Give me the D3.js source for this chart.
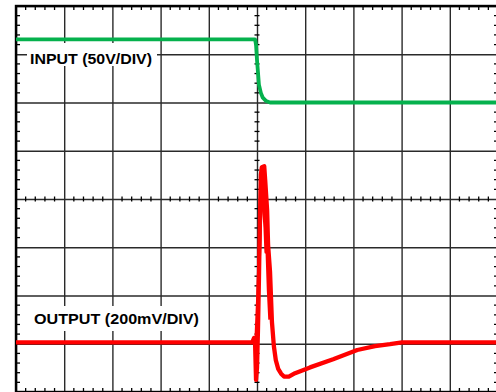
<!DOCTYPE html>
<meta charset="utf-8">
<head>
<script src="https://cdn.jsdelivr.net/npm/d3@7"></script>
<style>
  body { margin: 0; background: #fff; }
  svg { display: block; }
</style>
</head>
<body>
<script>

// time in divisions (0..10), level in divisions (-4..4, 0 = centre line)
var inputT = [0, 4.96, 4.98, 5.0, 5.02, 5.04, 5.08, 5.12, 5.19, 5.27, 10];
var inputV = [3.31, 3.31, 3.2, 2.88, 2.63, 2.37, 2.2, 2.1, 2.03, 2.0, 2.0];

var outputT = [0, 4.9, 4.94, 4.96, 4.98, 5.0, 5.02, 5.04, 5.06, 5.08, 5.1, 5.15, 5.17, 5.21, 5.23, 5.27,
               5.31, 5.35, 5.39, 5.44, 5.5, 5.56, 5.66, 5.79, 6.1, 6.58, 7.08, 7.45, 7.76, 8.01, 10];
var outputV = [-2.97, -2.97, -2.88, -2.99, -3.75, -3.5, -2.72, -1.68, -0.44, 0.5, 0.66, 0.68, 0.39, -0.23, -0.95, -1.5,
               -2.55, -3.05, -3.34, -3.52, -3.62, -3.68, -3.68, -3.61, -3.49, -3.32, -3.13, -3.05, -3.01, -2.97, -2.97];

// second sweep over the spike
var sweepT = [4.98, 5.02, 5.06, 5.08, 5.11, 5.13, 5.15, 5.17, 5.19, 5.21, 5.24, 5.27];
var sweepV = [-2.97, -2.0, -0.8, -0.1, 0.55, 0.35, -0.3, -0.6, -1.1, -1.0, -1.9, -2.5];

var labels = ["INPUT (50V/DIV)", "OUTPUT (200mV/DIV)"];

var width = 496, height = 392;

var svg = d3.select("body").append("svg")
    .attr("width", width)
    .attr("height", height);

var x = d3.scaleLinear().domain([0, 10]).range([16, 498]);
var y = d3.scaleLinear().domain([-4, 4]).range([392, 6]);

var majX = d3.range(0, 11);
var majY = d3.range(-4, 5);
var minX = d3.range(0, 50).map(function(i) { return i / 5; }).filter(function(d) { return d % 1 != 0; });
var minY = d3.range(-20, 20).map(function(i) { return i / 5; }).filter(function(d) { return d % 1 != 0; });

// grid lines
svg.append("g")
    .attr("transform", "translate(0," + y(-4) + ")")
    .call(d3.axisBottom(x).tickValues(majX).tickSize(-(y(-4) - y(4))).tickFormat(""))
    .call(function(g) { g.select(".domain").remove(); })
    .selectAll("line").attr("stroke", "#2a2a2a").attr("stroke-width", 1.4);

svg.append("g")
    .attr("transform", "translate(" + x(0) + ",0)")
    .call(d3.axisLeft(y).tickValues(majY).tickSize(-(x(10) - x(0))).tickFormat(""))
    .call(function(g) { g.select(".domain").remove(); })
    .selectAll("line").attr("stroke", "#2a2a2a").attr("stroke-width", 1.4);

// border
svg.append("rect")
    .attr("x", x(0)).attr("y", y(4))
    .attr("width", x(10) - x(0)).attr("height", y(-4) - y(4))
    .attr("fill", "none").attr("stroke", "#000").attr("stroke-width", 2.4);

// minor ticks on the border
var tk = svg.append("g").attr("stroke", "#000").attr("stroke-width", 1.3);
tk.selectAll(".tt").data(minX).enter().append("line")
    .attr("x1", x).attr("x2", x).attr("y1", y(4)).attr("y2", y(4) + 4);
tk.selectAll(".tb").data(minX).enter().append("line")
    .attr("x1", x).attr("x2", x).attr("y1", y(-4)).attr("y2", y(-4) - 4);
tk.selectAll(".tl").data(minY).enter().append("line")
    .attr("y1", y).attr("y2", y).attr("x1", x(0)).attr("x2", x(0) + 4);
tk.selectAll(".tr").data(minY).enter().append("line")
    .attr("y1", y).attr("y2", y).attr("x1", x(10)).attr("x2", x(10) - 4);
// minor ticks on centre lines
tk.selectAll(".cx").data(minX).enter().append("line")
    .attr("x1", x).attr("x2", x).attr("y1", y(0) - 2.5).attr("y2", y(0) + 2.5);
tk.selectAll(".cy").data(minY).enter().append("line")
    .attr("y1", y).attr("y2", y).attr("x1", x(5) - 2.5).attr("x2", x(5) + 2.5);

// labels with white boxes
svg.append("rect").attr("x", 27).attr("y", 43).attr("width", 130).attr("height", 23).attr("fill", "#fff");
svg.append("text").attr("x", 30).attr("y", 63.5)
    .attr("font-family", "Liberation Sans, Arial, sans-serif").attr("font-weight", "bold").attr("font-size", 14.5)
    .attr("textLength", 122).attr("lengthAdjust", "spacingAndGlyphs")
    .text(labels[0]);

svg.append("rect").attr("x", 28).attr("y", 306).attr("width", 177).attr("height", 25).attr("fill", "#fff");
svg.append("text").attr("x", 34).attr("y", 324)
    .attr("font-family", "Liberation Sans, Arial, sans-serif").attr("font-weight", "bold").attr("font-size", 15)
    .attr("textLength", 165).attr("lengthAdjust", "spacingAndGlyphs")
    .text(labels[1]);

// traces
var line = d3.line()
    .x(function(d) { return x(d[0]); })
    .y(function(d) { return y(d[1]); });

svg.append("path")
    .datum(d3.zip(inputT, inputV))
    .attr("d", line)
    .attr("fill", "none").attr("stroke", "#05b14d").attr("stroke-width", 3.8)
    .attr("stroke-linejoin", "round");

svg.append("path")
    .datum(d3.zip(sweepT, sweepV))
    .attr("d", line)
    .attr("fill", "none").attr("stroke", "#ff0000").attr("stroke-width", 3.5)
    .attr("stroke-linejoin", "round");

svg.append("path")
    .datum(d3.zip(outputT, outputV))
    .attr("d", line)
    .attr("fill", "none").attr("stroke", "#ff0000").attr("stroke-width", 4.3)
    .attr("stroke-linejoin", "round");

</script>
</body>
